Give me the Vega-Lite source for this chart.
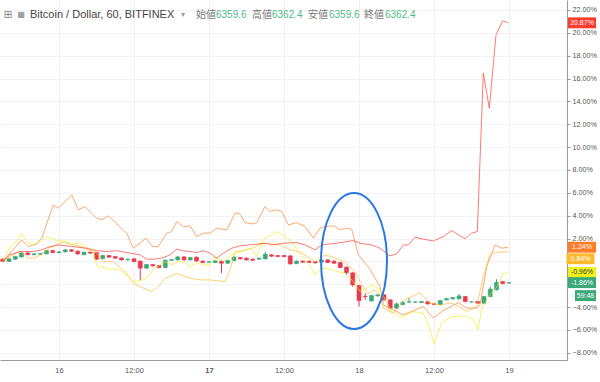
{
"$schema":"https://vega.github.io/schema/vega-lite/v6.json",
"width":567,"height":360,
"autosize":{"type":"none"},
"padding":{"left":0,"top":0,"right":33,"bottom":22},
"background":"white",
"config":{"view":{"stroke":null},"font":"Liberation Sans"},
"datasets":{
"one":[{}],
"candles":[
{"t":15,"o":0.19,"c":0.0,"h":0.25,"l":-0.06},{"t":16,"o":0.0,"c":0.22,"h":0.28,"l":-0.05},{"t":17,"o":0.19,"c":0.42,"h":0.48,"l":0.14},{"t":18,"o":0.39,"c":0.74,"h":0.8,"l":0.34},{"t":19,"o":0.74,"c":0.59,"h":0.8,"l":0.53},{"t":20,"o":0.59,"c":0.66,"h":0.72,"l":0.53},{"t":21,"o":0.63,"c":0.68,"h":0.75,"l":0.57},{"t":22,"o":0.66,"c":0.94,"h":1.0,"l":0.6},{"t":23,"o":0.94,"c":0.77,"h":1.0,"l":0.71},{"t":24,"o":0.77,"c":0.83,"h":0.9,"l":0.7},{"t":25,"o":0.83,"c":1.01,"h":1.08,"l":0.77},{"t":26,"o":1.01,"c":0.89,"h":1.07,"l":0.83},{"t":27,"o":0.89,"c":0.66,"h":0.95,"l":0.55},{"t":28,"o":0.59,"c":0.8,"h":0.86,"l":0.53},{"t":29,"o":0.8,"c":0.72,"h":0.86,"l":0.66},{"t":30,"o":0.77,"c":0.19,"h":0.83,"l":0.12},{"t":31,"o":0.24,"c":0.51,"h":0.57,"l":0.18},{"t":32,"o":0.51,"c":0.37,"h":0.57,"l":0.31},{"t":33,"o":0.42,"c":0.28,"h":0.48,"l":0.22},{"t":34,"o":0.3,"c":0.13,"h":0.36,"l":0.07},{"t":35,"o":0.13,"c":0.19,"h":0.25,"l":0.07},{"t":36,"o":0.22,"c":-0.02,"h":0.28,"l":-0.08},{"t":37,"o":0.02,"c":-0.59,"h":0.08,"l":-1.62},{"t":38,"o":-0.59,"c":-0.28,"h":-0.22,"l":-0.65},{"t":39,"o":-0.28,"c":-0.39,"h":-0.22,"l":-0.45},{"t":40,"o":-0.37,"c":-0.54,"h":-0.31,"l":-0.6},{"t":41,"o":-0.54,"c":0.1,"h":0.16,"l":-0.6},{"t":42,"o":0.1,"c":0.16,"h":0.22,"l":0.04},{"t":43,"o":0.13,"c":0.39,"h":0.45,"l":0.07},{"t":44,"o":0.39,"c":0.13,"h":0.45,"l":0.07},{"t":45,"o":0.13,"c":0.33,"h":0.39,"l":0.07},{"t":46,"o":0.37,"c":0.04,"h":0.43,"l":-0.02},{"t":47,"o":0.02,"c":-0.1,"h":0.08,"l":-0.16},{"t":48,"o":-0.07,"c":-0.04,"h":0.02,"l":-0.13},{"t":49,"o":-0.1,"c":0.04,"h":0.1,"l":-0.16},{"t":50,"o":0.02,"c":-0.16,"h":0.08,"l":-1.03},{"t":51,"o":-0.16,"c":0.07,"h":0.13,"l":-0.22},{"t":52,"o":0.07,"c":0.37,"h":0.43,"l":0.01},{"t":53,"o":0.33,"c":0.22,"h":0.39,"l":0.16},{"t":54,"o":0.28,"c":0.13,"h":0.34,"l":0.07},{"t":55,"o":0.19,"c":0.1,"h":0.25,"l":0.04},{"t":56,"o":0.19,"c":0.28,"h":0.34,"l":0.13},{"t":57,"o":0.22,"c":0.63,"h":0.85,"l":0.16},{"t":58,"o":0.57,"c":0.45,"h":0.63,"l":0.39},{"t":59,"o":0.51,"c":0.42,"h":0.57,"l":0.36},{"t":60,"o":0.51,"c":0.42,"h":0.57,"l":0.36},{"t":61,"o":0.48,"c":-0.22,"h":0.54,"l":-0.28},{"t":62,"o":-0.19,"c":0.02,"h":0.08,"l":-0.25},{"t":63,"o":0.02,"c":-0.07,"h":0.08,"l":-0.13},{"t":64,"o":0.02,"c":-0.1,"h":0.08,"l":-0.16},{"t":65,"o":-0.02,"c":-0.13,"h":0.04,"l":-0.19},{"t":66,"o":-0.07,"c":0.13,"h":0.19,"l":-0.13},{"t":67,"o":0.13,"c":-0.1,"h":0.19,"l":-0.16},{"t":68,"o":0.02,"c":-0.16,"h":0.08,"l":-0.22},{"t":69,"o":-0.1,"c":-0.54,"h":-0.04,"l":-0.6},{"t":70,"o":-0.51,"c":-0.98,"h":-0.45,"l":-1.18},{"t":71,"o":-1.01,"c":-2.06,"h":-0.95,"l":-2.2},{"t":72,"o":-2.12,"c":-3.43,"h":-2.06,"l":-3.95},{"t":73,"o":-3.05,"c":-3.1,"h":-2.78,"l":-3.37},{"t":74,"o":-3.46,"c":-2.99,"h":-2.93,"l":-3.52},{"t":75,"o":-3.02,"c":-2.93,"h":-2.87,"l":-3.08},{"t":76,"o":-2.93,"c":-3.37,"h":-2.87,"l":-3.43},{"t":77,"o":-3.37,"c":-4.09,"h":-3.31,"l":-4.18},{"t":78,"o":-4.09,"c":-3.72,"h":-3.6,"l":-4.15},{"t":79,"o":-3.78,"c":-3.6,"h":-3.45,"l":-3.84},{"t":80,"o":-3.57,"c":-3.54,"h":-3.19,"l":-3.63},{"t":81,"o":-3.57,"c":-3.55,"h":-3.49,"l":-3.63},{"t":82,"o":-3.6,"c":-3.52,"h":-3.46,"l":-3.66},{"t":83,"o":-3.54,"c":-3.72,"h":-3.48,"l":-3.78},{"t":84,"o":-3.71,"c":-3.76,"h":-3.65,"l":-3.82},{"t":85,"o":-3.78,"c":-3.43,"h":-3.37,"l":-3.84},{"t":86,"o":-3.37,"c":-3.25,"h":-3.19,"l":-3.43},{"t":87,"o":-3.28,"c":-3.17,"h":-3.11,"l":-3.34},{"t":88,"o":-3.28,"c":-3.02,"h":-2.84,"l":-3.34},{"t":89,"o":-3.08,"c":-3.52,"h":-3.02,"l":-3.58},{"t":90,"o":-3.55,"c":-3.54,"h":-3.49,"l":-3.61},{"t":91,"o":-3.51,"c":-3.66,"h":-3.45,"l":-3.72},{"t":92,"o":-3.66,"c":-3.08,"h":-3.02,"l":-3.72},{"t":93,"o":-3.08,"c":-2.43,"h":-2.2,"l":-3.14},{"t":94,"o":-2.49,"c":-1.85,"h":-1.56,"l":-2.55},{"t":95,"o":-1.77,"c":-1.94,"h":-1.71,"l":-2.0},{"t":96,"o":-1.9,"c":-1.86,"h":-1.84,"l":-1.92}
],
"lines":[
{"s":"S","t":15,"p":0},{"s":"S","t":18.03,"p":1.88},{"s":"S","t":19.09,"p":1.29},{"s":"S","t":20.43,"p":1.53},{"s":"S","t":21.23,"p":2.03},{"s":"S","t":23.09,"p":4.94},{"s":"S","t":23.89,"p":4.65},{"s":"S","t":26.03,"p":5.82},{"s":"S","t":27.09,"p":4.51},{"s":"S","t":28.16,"p":4.79},{"s":"S","t":30.03,"p":3.78},{"s":"S","t":30.83,"p":3.63},{"s":"S","t":31.89,"p":3.98},{"s":"S","t":34.83,"p":2.47},{"s":"S","t":35.89,"p":1.15},{"s":"S","t":37.92,"p":2.03},{"s":"S","t":38.99,"p":1.29},{"s":"S","t":39.89,"p":1.29},{"s":"S","t":41.23,"p":2.47},{"s":"S","t":42.03,"p":2.61},{"s":"S","t":42.83,"p":3.48},{"s":"S","t":43.89,"p":3.04},{"s":"S","t":44.96,"p":3.11},{"s":"S","t":46.03,"p":2.17},{"s":"S","t":47.09,"p":2.47},{"s":"S","t":48.16,"p":2.47},{"s":"S","t":49.23,"p":2.9},{"s":"S","t":50.83,"p":2.76},{"s":"S","t":52.16,"p":4.22},{"s":"S","t":52.85,"p":4.22},{"s":"S","t":53.76,"p":3.39},{"s":"S","t":54.83,"p":3.28},{"s":"S","t":55.63,"p":3.39},{"s":"S","t":56.96,"p":4.79},{"s":"S","t":57.76,"p":4.36},{"s":"S","t":58.83,"p":4.51},{"s":"S","t":59.63,"p":4.36},{"s":"S","t":60.69,"p":3.19},{"s":"S","t":62.03,"p":3.39},{"s":"S","t":63.36,"p":3.04},{"s":"S","t":64.69,"p":2.03},{"s":"S","t":65.76,"p":2.9},{"s":"S","t":66.56,"p":3.04},{"s":"S","t":67.89,"p":3.11},{"s":"S","t":68.96,"p":2.76},{"s":"S","t":70.03,"p":2.9},{"s":"S","t":70.83,"p":2.82},{"s":"S","t":71.89,"p":0.57},{"s":"S","t":73.76,"p":-0.68},{"s":"S","t":75.36,"p":-2.2},{"s":"S","t":75.89,"p":-3.81},{"s":"S","t":79.09,"p":-4.68},{"s":"S","t":82.29,"p":-3.95},{"s":"S","t":83.89,"p":-4.97},{"s":"S","t":85.23,"p":-4.39},{"s":"S","t":87.89,"p":-3.6},{"s":"S","t":89.23,"p":-4.09},{"s":"S","t":90.83,"p":-4.09},{"s":"S","t":91.36,"p":-3.81},{"s":"S","t":92.43,"p":-0.45},{"s":"S","t":93.76,"p":1.44},{"s":"S","t":94.83,"p":1.15},{"s":"S","t":95.89,"p":1.24},
{"s":"A","t":15,"p":0},{"s":"A","t":16.16,"p":0.42},{"s":"A","t":17.76,"p":0.86},{"s":"A","t":19.09,"p":0.28},{"s":"A","t":19.89,"p":0.28},{"s":"A","t":21.23,"p":0.57},{"s":"A","t":22.29,"p":1.15},{"s":"A","t":23.09,"p":1.29},{"s":"A","t":24.69,"p":1.73},{"s":"A","t":25.23,"p":1.59},{"s":"A","t":27.36,"p":1.29},{"s":"A","t":28.69,"p":1.01},{"s":"A","t":29.76,"p":0.86},{"s":"A","t":31.09,"p":-0.02},{"s":"A","t":32.69,"p":-0.02},{"s":"A","t":34.83,"p":-1.03},{"s":"A","t":35.89,"p":-1.91},{"s":"A","t":37.49,"p":-2.34},{"s":"A","t":38.83,"p":-2.64},{"s":"A","t":39.89,"p":-2.2},{"s":"A","t":40.96,"p":-1.47},{"s":"A","t":41.76,"p":-1.33},{"s":"A","t":42.83,"p":-1.03},{"s":"A","t":44.16,"p":-1.33},{"s":"A","t":44.96,"p":-1.47},{"s":"A","t":46.56,"p":-1.62},{"s":"A","t":48.16,"p":-1.62},{"s":"A","t":49.49,"p":-1.71},{"s":"A","t":50.56,"p":-1.77},{"s":"A","t":51.36,"p":-0.74},{"s":"A","t":52.16,"p":0.86},{"s":"A","t":53.49,"p":0.94},{"s":"A","t":54.83,"p":1.15},{"s":"A","t":56.69,"p":1.59},{"s":"A","t":59.36,"p":1.44},{"s":"A","t":60.96,"p":1.01},{"s":"A","t":62.56,"p":0.83},{"s":"A","t":64.96,"p":-0.04},{"s":"A","t":66.56,"p":0.57},{"s":"A","t":68.16,"p":0.31},{"s":"A","t":69.76,"p":-0.04},{"s":"A","t":71.36,"p":-0.92},{"s":"A","t":72.48,"p":-2.06},{"s":"A","t":73.44,"p":-2.84},{"s":"A","t":74.56,"p":-2.49},{"s":"A","t":75.36,"p":-2.93},{"s":"A","t":75.89,"p":-4.09},{"s":"A","t":77.49,"p":-4.53},{"s":"A","t":79.36,"p":-3.37},{"s":"A","t":81.76,"p":-2.73},{"s":"A","t":83.36,"p":-3.66},{"s":"A","t":84.96,"p":-3.81},{"s":"A","t":86.56,"p":-3.66},{"s":"A","t":87.63,"p":-3.81},{"s":"A","t":89.23,"p":-4.39},{"s":"A","t":90.83,"p":-3.95},{"s":"A","t":91.89,"p":-1.33},{"s":"A","t":92.96,"p":0.57},{"s":"A","t":93.76,"p":0.79},{"s":"A","t":95.89,"p":0.84},
{"s":"Y","t":15,"p":0},{"s":"Y","t":16.16,"p":1.29},{"s":"Y","t":16.96,"p":1.59},{"s":"Y","t":18.03,"p":2.41},{"s":"Y","t":19.09,"p":1.64},{"s":"Y","t":19.89,"p":1.44},{"s":"Y","t":20.96,"p":1.73},{"s":"Y","t":22.03,"p":2.17},{"s":"Y","t":23.09,"p":1.94},{"s":"Y","t":23.89,"p":1.79},{"s":"Y","t":25.23,"p":1.73},{"s":"Y","t":26.03,"p":1.44},{"s":"Y","t":27.09,"p":1.64},{"s":"Y","t":28.16,"p":1.29},{"s":"Y","t":29.49,"p":0.86},{"s":"Y","t":30.03,"p":-0.39},{"s":"Y","t":30.83,"p":-0.51},{"s":"Y","t":32.16,"p":-0.68},{"s":"Y","t":33.49,"p":-0.68},{"s":"Y","t":34.83,"p":-1.18},{"s":"Y","t":35.89,"p":-1.77},{"s":"Y","t":36.96,"p":-1.68},{"s":"Y","t":38.03,"p":-1.47},{"s":"Y","t":39.09,"p":-0.74},{"s":"Y","t":40.16,"p":-0.31},{"s":"Y","t":40.96,"p":-0.02},{"s":"Y","t":42.03,"p":-0.31},{"s":"Y","t":43.09,"p":-0.02},{"s":"Y","t":44.16,"p":-0.02},{"s":"Y","t":44.96,"p":-0.51},{"s":"Y","t":46.03,"p":-0.1},{"s":"Y","t":47.09,"p":-0.31},{"s":"Y","t":48.16,"p":-0.39},{"s":"Y","t":48.96,"p":0.37},{"s":"Y","t":50.29,"p":-0.02},{"s":"Y","t":51.63,"p":0.57},{"s":"Y","t":53.49,"p":0.94},{"s":"Y","t":54.83,"p":1.15},{"s":"Y","t":55.63,"p":0.42},{"s":"Y","t":56.69,"p":1.94},{"s":"Y","t":58.93,"p":2.61},{"s":"Y","t":60.96,"p":1.88},{"s":"Y","t":62.56,"p":0.72},{"s":"Y","t":63.89,"p":-0.16},{"s":"Y","t":64.96,"p":-1.18},{"s":"Y","t":66.03,"p":-0.59},{"s":"Y","t":67.36,"p":-0.68},{"s":"Y","t":68.43,"p":-0.89},{"s":"Y","t":69.76,"p":-1.03},{"s":"Y","t":71.09,"p":-1.77},{"s":"Y","t":72.16,"p":-2.64},{"s":"Y","t":73.23,"p":-2.34},{"s":"Y","t":74.03,"p":-2.06},{"s":"Y","t":75.36,"p":-2.49},{"s":"Y","t":77.23,"p":-4.39},{"s":"Y","t":78.83,"p":-4.88},{"s":"Y","t":80.69,"p":-4.39},{"s":"Y","t":82.29,"p":-4.53},{"s":"Y","t":83.36,"p":-5.99},{"s":"Y","t":84.0,"p":-7.22},{"s":"Y","t":85.23,"p":-5.41},{"s":"Y","t":86.83,"p":-4.83},{"s":"Y","t":89.23,"p":-4.77},{"s":"Y","t":90.29,"p":-5.12},{"s":"Y","t":91.04,"p":-5.99},{"s":"Y","t":91.63,"p":-4.09},{"s":"Y","t":92.96,"p":-2.93},{"s":"Y","t":94.13,"p":-2.2},{"s":"Y","t":95.09,"p":-1.09},{"s":"Y","t":95.89,"p":-0.96},
{"s":"R","t":15,"p":0},{"s":"R","t":16.16,"p":0.57},{"s":"R","t":17.76,"p":0.86},{"s":"R","t":19.89,"p":0.86},{"s":"R","t":21.23,"p":1.01},{"s":"R","t":22.56,"p":1.29},{"s":"R","t":23.89,"p":1.44},{"s":"R","t":26.29,"p":1.29},{"s":"R","t":28.43,"p":1.15},{"s":"R","t":30.03,"p":0.94},{"s":"R","t":31.63,"p":0.86},{"s":"R","t":33.23,"p":0.94},{"s":"R","t":34.83,"p":0.77},{"s":"R","t":36.96,"p":0.57},{"s":"R","t":38.03,"p":0.19},{"s":"R","t":39.09,"p":0.19},{"s":"R","t":40.43,"p":0.28},{"s":"R","t":41.76,"p":0.57},{"s":"R","t":42.83,"p":1.07},{"s":"R","t":43.89,"p":0.92},{"s":"R","t":44.96,"p":0.86},{"s":"R","t":46.03,"p":0.77},{"s":"R","t":47.09,"p":0.94},{"s":"R","t":48.16,"p":0.72},{"s":"R","t":49.23,"p":0.28},{"s":"R","t":50.29,"p":0.72},{"s":"R","t":51.63,"p":1.15},{"s":"R","t":52.96,"p":1.36},{"s":"R","t":54.29,"p":1.44},{"s":"R","t":57.23,"p":1.59},{"s":"R","t":58.03,"p":1.44},{"s":"R","t":59.89,"p":1.59},{"s":"R","t":62.03,"p":1.64},{"s":"R","t":63.36,"p":1.44},{"s":"R","t":64.96,"p":1.01},{"s":"R","t":66.03,"p":1.44},{"s":"R","t":68.43,"p":1.59},{"s":"R","t":71.09,"p":1.82},{"s":"R","t":72.16,"p":1.59},{"s":"R","t":74.03,"p":1.44},{"s":"R","t":75.36,"p":1.15},{"s":"R","t":76.96,"p":0.48},{"s":"R","t":78.03,"p":0.66},{"s":"R","t":79.09,"p":1.44},{"s":"R","t":79.89,"p":1.44},{"s":"R","t":80.96,"p":2.12},{"s":"R","t":82.29,"p":1.94},{"s":"R","t":83.89,"p":1.79},{"s":"R","t":85.49,"p":2.17},{"s":"R","t":86.83,"p":2.69},{"s":"R","t":88.96,"p":1.97},{"s":"R","t":90.03,"p":2.47},{"s":"R","t":90.93,"p":2.61},{"s":"R","t":91.89,"p":16.47},{"s":"R","t":92.85,"p":13.4},{"s":"R","t":93.92,"p":19.82},{"s":"R","t":94.99,"p":21.04},{"s":"R","t":95.89,"p":20.87}
],
"badges":[
{"s":"R","v":20.87,"label":"20.87%"},{"s":"S","v":1.24,"label":"1.24%"},{"s":"A","v":0.84,"label":"0.84%"},{"s":"Y","v":-0.96,"label":"-0.96%"},{"s":"B","v":-1.86,"label":"-1.86%"}
]
},
"encoding":{
 "x":{"type":"quantitative","scale":{"domain":[14.56,105.28],"nice":false,"zero":false,"padding":0},
   "axis":{"title":null,"values":[24,36,48,60,72,84,96],"labelExpr":"datum.value==24?'16':datum.value==48?'17':datum.value==72?'18':datum.value==96?'19':'12:00'","labelFontWeight":{"condition":{"test":"datum.value==48","value":"bold"},"value":"normal"},"grid":true,"gridColor":"#f0f2f7","ticks":false,"domainColor":"#9a9a9a","labelColor":"#555555","labelFontSize":7.5,"labelPadding":6,"labelFont":"Liberation Sans"}},
 "y":{"type":"quantitative","scale":{"domain":[-8.63,22.87],"nice":false,"zero":false,"padding":0},
   "axis":{"title":null,"orient":"right","values":[-8,-6,-4,-2,0,2,4,6,8,10,12,14,16,18,20,22],"labelExpr":"(datum.value==0||datum.value==-2)?'':format(datum.value,'.2f')+'%'","grid":true,"gridColor":"#f0f2f7","tickSize":3,"tickColor":"#9a9a9a","domainColor":"#9a9a9a","labelColor":"#555555","labelFontSize":7.2,"labelPadding":2,"labelFont":"Liberation Sans"}}
},
"layer":[
{"data":{"name":"candles"},"mark":{"type":"rule","strokeWidth":1},
 "encoding":{
  "x":{"field":"t","type":"quantitative","title":null},
  "y":{"field":"l","type":"quantitative","title":null},
  "y2":{"field":"h"},
  "color":{"condition":{"test":"datum.c>=datum.o","value":"#3aa879"},"value":"#e8394d"}
 }},
{"data":{"name":"candles"},"mark":{"type":"bar","size":4,"strokeWidth":0.6},
 "encoding":{
  "x":{"field":"t","type":"quantitative","title":null},
  "y":{"field":"o","type":"quantitative","title":null},
  "y2":{"field":"c"},
  "color":{"condition":{"test":"datum.c>=datum.o","value":"#3aa879"},"value":"#e8394d"},
  "stroke":{"condition":{"test":"datum.c>=datum.o","value":"#3aa879"},"value":"#e8394d"}
 }},
{"data":{"name":"lines"},"mark":{"type":"line","strokeWidth":1,"opacity":0.68},
 "encoding":{
  "x":{"field":"t","type":"quantitative","title":null},
  "y":{"field":"p","type":"quantitative","title":null},
  "color":{"field":"s","type":"nominal","legend":null,"scale":{"domain":["R","S","A","Y","B"],"range":["#ff3b2e","#ff7d2a","#ffb92e","#ecef1a","#3aa879"]}}
 }},
{"data":{"name":"one"},"mark":{"type":"point","shape":"M -0.485 0 A 0.485 1 0 1 0 0.485 0 A 0.485 1 0 1 0 -0.485 0","size":18496,"filled":false,"stroke":"#2a78e4","strokeWidth":2,"opacity":1},
 "encoding":{"x":{"datum":71.2},"y":{"datum":0.04}}},
{"data":{"name":"badges"},"transform":[{"filter":"datum.s!='A'"}],"mark":{"type":"point","shape":"M -1 -0.39 H 1 V 0.39 H -1 Z","size":784,"filled":true,"opacity":1,"strokeWidth":0},
 "encoding":{"x":{"datum":107.68},"y":{"field":"v","type":"quantitative","title":null},"color":{"field":"s","type":"nominal","legend":null}}},
{"data":{"name":"badges"},"transform":[{"filter":"datum.s=='A'"}],"mark":{"type":"point","shape":"M -1 -0.39 H 1 V 0.39 H -1 Z","size":784,"filled":true,"opacity":1,"strokeWidth":0,"yOffset":7},
 "encoding":{"x":{"datum":107.44},"y":{"field":"v","type":"quantitative","title":null},"color":{"field":"s","type":"nominal","legend":null}}},
{"data":{"name":"badges"},"transform":[{"filter":"datum.s=='B'"}],"mark":{"type":"point","shape":"M -1 -0.52 H 1 V 0.52 H -1 Z","size":441,"filled":true,"opacity":1,"strokeWidth":0,"yOffset":13},
 "encoding":{"x":{"datum":108.24},"y":{"field":"v","type":"quantitative","title":null},"color":{"field":"s","type":"nominal","legend":null}}},
{"data":{"name":"badges"},"transform":[{"filter":"datum.s!='A'"}],"mark":{"type":"text","fontSize":7,"align":"center","baseline":"middle","font":"Liberation Sans"},
 "encoding":{"x":{"datum":107.68},"y":{"field":"v","type":"quantitative","title":null},"text":{"field":"label"},"color":{"condition":{"test":"datum.s=='Y'","value":"#444444"},"value":"#ffffff"}}},
{"data":{"name":"badges"},"transform":[{"filter":"datum.s=='A'"}],"mark":{"type":"text","fontSize":7,"align":"center","baseline":"middle","yOffset":7,"font":"Liberation Sans","color":"#ffffff"},
 "encoding":{"x":{"datum":107.44},"y":{"field":"v","type":"quantitative","title":null},"text":{"field":"label"}}},
{"data":{"name":"badges"},"transform":[{"filter":"datum.s=='B'"}],"mark":{"type":"text","fontSize":7,"align":"center","baseline":"middle","yOffset":13,"font":"Liberation Sans","color":"#ffffff","text":"59:48"},
 "encoding":{"x":{"datum":108.24},"y":{"field":"v","type":"quantitative","title":null}}},
{"data":{"name":"one"},"mark":{"type":"text","text":"⊞","fontSize":11,"align":"center","baseline":"middle","color":"#888888","font":"DejaVu Sans"},"encoding":{"x":{"datum":15.84},"y":{"datum":21.52}}},
{"data":{"name":"one"},"mark":{"type":"text","text":"■","fontSize":8,"align":"center","baseline":"middle","color":"#a0a0a0","font":"DejaVu Sans"},"encoding":{"x":{"datum":17.92},"y":{"datum":21.52}}},
{"data":{"name":"one"},"mark":{"type":"text","text":"Bitcoin / Dollar, 60, BITFINEX","fontSize":11,"align":"left","baseline":"middle","color":"#444444","font":"Liberation Sans"},"encoding":{"x":{"datum":19.36},"y":{"datum":21.52}}},
{"data":{"name":"one"},"mark":{"type":"text","text":"▾","fontSize":8,"align":"center","baseline":"middle","color":"#999999","font":"DejaVu Sans"},"encoding":{"x":{"datum":43.84},"y":{"datum":21.52}}},
{"data":{"name":"one"},"mark":{"type":"text","text":"始値","fontSize":10,"align":"left","baseline":"middle","color":"#777777","font":"Noto Sans CJK JP"},"encoding":{"x":{"datum":45.92},"y":{"datum":21.52}}},
{"data":{"name":"one"},"mark":{"type":"text","text":"6359.6","fontSize":10,"align":"left","baseline":"middle","color":"#53b987","font":"Liberation Sans"},"encoding":{"x":{"datum":49.12},"y":{"datum":21.52}}},
{"data":{"name":"one"},"mark":{"type":"text","text":"高値","fontSize":10,"align":"left","baseline":"middle","color":"#777777","font":"Noto Sans CJK JP"},"encoding":{"x":{"datum":54.88},"y":{"datum":21.52}}},
{"data":{"name":"one"},"mark":{"type":"text","text":"6362.4","fontSize":10,"align":"left","baseline":"middle","color":"#53b987","font":"Liberation Sans"},"encoding":{"x":{"datum":58.08},"y":{"datum":21.52}}},
{"data":{"name":"one"},"mark":{"type":"text","text":"安値","fontSize":10,"align":"left","baseline":"middle","color":"#777777","font":"Noto Sans CJK JP"},"encoding":{"x":{"datum":63.84},"y":{"datum":21.52}}},
{"data":{"name":"one"},"mark":{"type":"text","text":"6359.6","fontSize":10,"align":"left","baseline":"middle","color":"#53b987","font":"Liberation Sans"},"encoding":{"x":{"datum":67.2},"y":{"datum":21.52}}},
{"data":{"name":"one"},"mark":{"type":"text","text":"終値","fontSize":10,"align":"left","baseline":"middle","color":"#777777","font":"Noto Sans CJK JP"},"encoding":{"x":{"datum":72.8},"y":{"datum":21.52}}},
{"data":{"name":"one"},"mark":{"type":"text","text":"6362.4","fontSize":10,"align":"left","baseline":"middle","color":"#53b987","font":"Liberation Sans"},"encoding":{"x":{"datum":76.16},"y":{"datum":21.52}}}
]
}
